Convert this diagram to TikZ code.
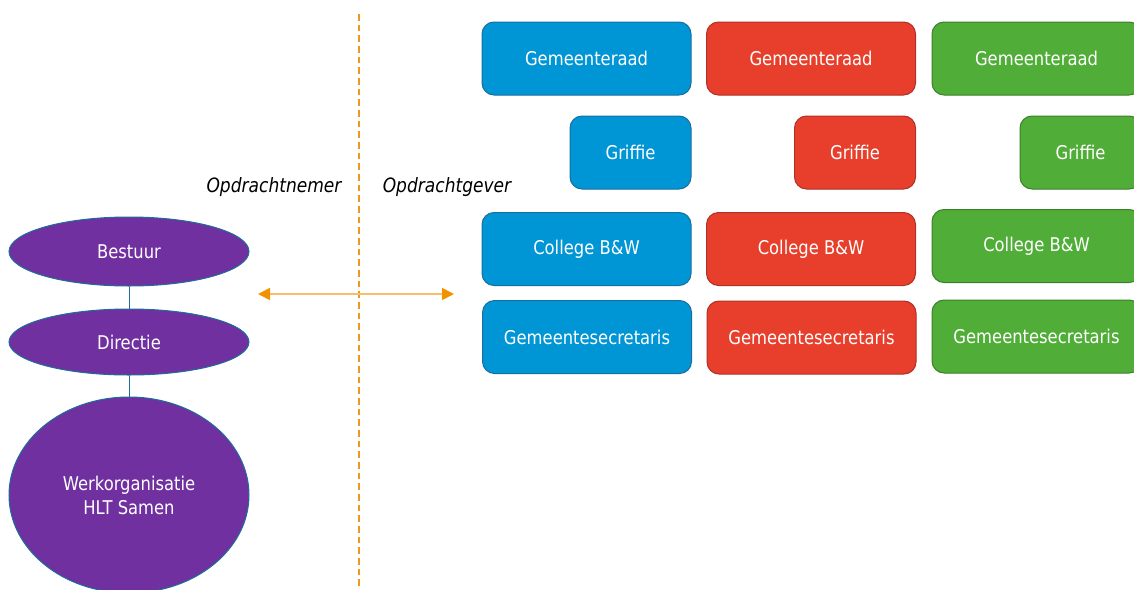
\documentclass[tikz,border=0pt]{standalone}
\usepackage{fontspec}
\setmainfont{DejaVu Sans}[FakeStretch=0.865]
\usetikzlibrary{shapes.geometric,arrows.meta}
\definecolor{cblue}{RGB}{0,150,214}
\definecolor{cblueb}{RGB}{24,110,160}
\definecolor{cred}{RGB}{231,63,43}
\definecolor{credb}{RGB}{176,48,38}
\definecolor{cgreen}{RGB}{80,174,56}
\definecolor{cgreenb}{RGB}{58,128,40}
\definecolor{cpurple}{RGB}{112,48,160}
\definecolor{cteal}{RGB}{30,110,155}
\definecolor{corange}{RGB}{243,146,0}
\definecolor{cdash}{RGB}{242,150,30}
\definecolor{clorange}{RGB}{247,190,110}
\tikzset{
  box/.style={rounded corners=9pt, line width=0.75pt, minimum height=54.75pt,
    inner sep=0pt, text=white, font=\fontsize{14.2}{17}\selectfont},
  wide/.style={minimum width=156.75pt},
  narrow/.style={minimum width=90.75pt},
  bluebox/.style={box, fill=cblue, draw=cblueb},
  redbox/.style={box, fill=cred, draw=credb},
  greenbox/.style={box, fill=cgreen, draw=cgreenb},
  oval/.style={ellipse, fill=cpurple, draw=cteal, line width=0.75pt, inner sep=0pt,
    minimum width=180pt, text=white, align=center, font=\fontsize{14.2}{18}\selectfont},
  link/.style={draw=cteal, line width=0.75pt},
  lbl/.style={font=\fontsize{14.8}{17}\selectfont\itshape, inner sep=0pt}
}
\begin{document}
\begin{tikzpicture}[x=0.75pt,y=-0.75pt]
\useasboundingbox (0,0) rectangle (1134,589);
\clip (0,0) rectangle (1134,589);
% ovals
\node[oval, minimum height=51.75pt] (bestuur) at (129,251.5) {Bestuur};
\node[oval, minimum height=49.5pt] (directie) at (129,342) {Directie};
\node[oval, minimum height=147pt] (werk) at (129,495) {Werkorganisatie\\HLT Samen};
\draw[link] (bestuur.south) -- (directie.north);
\draw[link] (directie.south) -- (werk.north);
% divider
\coordinate (dtop) at (359,14);
\coordinate (dbot) at (359,589);
\draw[cdash, line width=0.8pt, dash pattern=on 5pt off 3pt] (dtop) -- (dbot);
\node[lbl] (nemer) at (274,187) {Opdrachtnemer};
\node[lbl] (gever) at (447,187) {Opdrachtgever};
% arrow
\coordinate (aL) at (258,294);
\coordinate (aR) at (454,294);
\draw[clorange, line width=1.3pt,
  {Triangle[length=9pt,width=9pt,color=corange]}-{Triangle[length=9pt,width=9pt,color=corange]}] (aL) -- (aR);
% blue column
\node[bluebox, wide] (braad) at (586.5,58.5) {Gemeenteraad};
\node[bluebox, narrow] (bgrif) at (630.5,152.5) {Griffie};
\node[bluebox, wide] (bcol) at (586.5,249) {College B\&W};
\node[bluebox, wide] (bsec) at (587,337) {Gemeentesecretaris};
% red column
\node[redbox, wide] (rraad) at (811,58.5) {Gemeenteraad};
\node[redbox, narrow] (rgrif) at (855,152.5) {Griffie};
\node[redbox, wide] (rcol) at (811,249) {College B\&W};
\node[redbox, wide] (rsec) at (811.5,337.5) {Gemeentesecretaris};
% green column
\node[greenbox, wide] (graad) at (1036.5,58.5) {Gemeenteraad};
\node[greenbox, narrow] (ggrif) at (1080.5,152.5) {Griffie};
\node[greenbox, wide] (gcol) at (1036.5,246) {College B\&W};
\node[greenbox, wide] (gsec) at (1036.5,336.5) {Gemeentesecretaris};
\end{tikzpicture}
\end{document}
